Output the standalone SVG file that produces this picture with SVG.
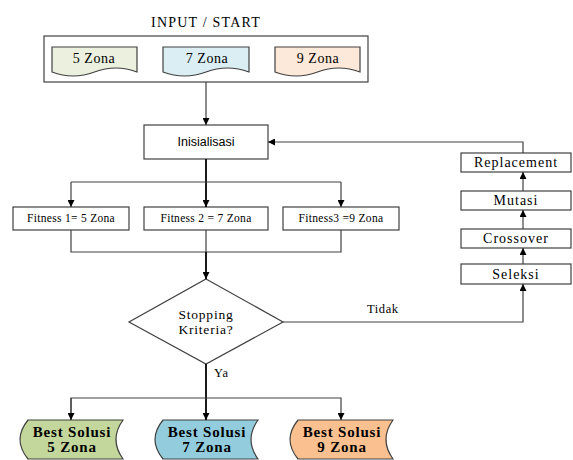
<svg xmlns="http://www.w3.org/2000/svg" width="573" height="460" viewBox="0 0 573 460">
<defs>
<marker id="ah" viewBox="0 0 10 10" refX="10" refY="5" markerWidth="7" markerHeight="7" markerUnits="userSpaceOnUse" orient="auto">
<path d="M0,0 L10,5 L0,10 Z" fill="#000"/>
</marker>
<style>
.box{fill:#fff;stroke:#404040;stroke-width:1.2}
.ln{fill:none;stroke:#404040;stroke-width:1.2}
.lnb{fill:none;stroke:#000;stroke-width:1.8}
.s{font-family:"Liberation Serif",serif;fill:#000}
.a{font-family:"Liberation Sans",sans-serif;fill:#000}
.b{font-family:"Liberation Serif",serif;font-weight:bold;font-size:15px;letter-spacing:0.8px;fill:#000}
</style>
</defs>
<rect width="573" height="460" fill="#fff"/>
<text class="s" x="206" y="27" font-size="14" letter-spacing="1.2" text-anchor="middle">INPUT / START</text>
<g id="input">
<rect class="box" x="44" y="36" width="324" height="46"/>
<g id="doc5">
<path class="box" d="M52,47 H137 V72 Q116,64 94.5,72 T52,72 Z" style="fill:#EBF1DE"/>
<text class="s" x="94" y="63" font-size="14" letter-spacing="0.5" text-anchor="middle">5 Zona</text>
</g>
<g id="doc7">
<path class="box" d="M163,47 H249 V72 Q227.5,64 206,72 T163,72 Z" style="fill:#DAEEF3"/>
<text class="s" x="207" y="63" font-size="14" letter-spacing="0.5" text-anchor="middle">7 Zona</text>
</g>
<g id="doc9">
<path class="box" d="M275,47 H360 V72 Q338.75,64 317.5,72 T275,72 Z" style="fill:#FDE9D9"/>
<text class="s" x="318" y="63" font-size="14" letter-spacing="0.5" text-anchor="middle">9 Zona</text>
</g>
</g>
<g id="inisialisasi">
<rect class="box" x="144" y="125" width="124" height="34"/>
<text class="a" x="206" y="146" font-size="12.5" text-anchor="middle">Inisialisasi</text>
</g>
<g id="fitness1">
<rect class="box" x="13" y="207" width="116" height="23"/>
<text class="s" x="71" y="222" font-size="11.5" letter-spacing="0.3" text-anchor="middle">Fitness 1= 5 Zona</text>
</g>
<g id="fitness2">
<rect class="box" x="144" y="207" width="124" height="23"/>
<text class="s" x="206" y="222" font-size="11.5" letter-spacing="0.3" text-anchor="middle">Fitness 2 = 7 Zona</text>
</g>
<g id="fitness3">
<rect class="box" x="283" y="207" width="116" height="23"/>
<text class="s" x="341" y="222" font-size="11.5" letter-spacing="0.3" text-anchor="middle">Fitness3 =9 Zona</text>
</g>
<g id="stopping">
<path class="box" d="M206,279 L283,322 L206,364 L129,322 Z"/>
<text class="s" x="206" y="319" font-size="13.5" letter-spacing="0.8" text-anchor="middle">Stopping</text>
<text class="s" x="206" y="334" font-size="13.5" letter-spacing="0.8" text-anchor="middle">Kriteria?</text>
</g>
<g id="replacement">
<rect class="box" x="461" y="153" width="110" height="19"/>
<text class="s" x="516" y="167" font-size="14" letter-spacing="1" text-anchor="middle">Replacement</text>
</g>
<g id="mutasi">
<rect class="box" x="461" y="191" width="110" height="19"/>
<text class="s" x="516" y="205" font-size="14" letter-spacing="1" text-anchor="middle">Mutasi</text>
</g>
<g id="crossover">
<rect class="box" x="461" y="229" width="110" height="19"/>
<text class="s" x="516" y="243" font-size="14" letter-spacing="1" text-anchor="middle">Crossover</text>
</g>
<g id="seleksi">
<rect class="box" x="461" y="264" width="110" height="20"/>
<text class="s" x="516" y="279" font-size="14" letter-spacing="1" text-anchor="middle">Seleksi</text>
</g>
<g id="best5">
<path class="box" d="M28,420 H123 Q109,439.5 123,459 H28 Q12,439.5 28,420 Z" style="fill:#C3D69B"/>
<text class="b" x="72" y="437" text-anchor="middle">Best Solusi</text>
<text class="b" x="72" y="452" text-anchor="middle">5 Zona</text>
</g>
<g id="best7">
<path class="box" d="M163,420 H258 Q244,439.5 258,459 H163 Q147,439.5 163,420 Z" style="fill:#93CDDD"/>
<text class="b" x="207" y="437" text-anchor="middle">Best Solusi</text>
<text class="b" x="207" y="452" text-anchor="middle">7 Zona</text>
</g>
<g id="best9">
<path class="box" d="M298,420 H393 Q379,439.5 393,459 H298 Q282,439.5 298,420 Z" style="fill:#FAC090"/>
<text class="b" x="342" y="437" text-anchor="middle">Best Solusi</text>
<text class="b" x="342" y="452" text-anchor="middle">9 Zona</text>
</g>
<g id="connectors">
<path class="ln" d="M206,82 V125" marker-end="url(#ah)"/>
<path class="lnb" d="M206,159 V207" marker-end="url(#ah)"/>
<path class="ln" d="M71,182 H341"/>
<path class="ln" d="M71,182 V207" marker-end="url(#ah)"/>
<path class="ln" d="M341,182 V207" marker-end="url(#ah)"/>
<path class="ln" d="M71,230 V252 H341 V230"/>
<path class="ln" d="M206,230 V252"/>
<path class="lnb" d="M206,252 V279" marker-end="url(#ah)"/>
<path class="ln" d="M283,322 H523 V284" marker-end="url(#ah)"/>
<path class="ln" d="M523,264 V248" marker-end="url(#ah)"/>
<path class="ln" d="M523,229 V210" marker-end="url(#ah)"/>
<path class="ln" d="M523,191 V172" marker-end="url(#ah)"/>
<path class="ln" d="M523,153 V142 H268" marker-end="url(#ah)"/>
<path class="lnb" d="M206,364 V420" marker-end="url(#ah)"/>
<path class="ln" d="M71,420 V398 H341 V420" marker-end="url(#ah)"/>
<path class="ln" d="M71,398 V420" marker-end="url(#ah)"/>
<text class="s" x="367" y="313" font-size="12.5" letter-spacing="0.6">Tidak</text>
<text class="s" x="214" y="377" font-size="12.5" letter-spacing="0.6">Ya</text>
</g>
</svg>
